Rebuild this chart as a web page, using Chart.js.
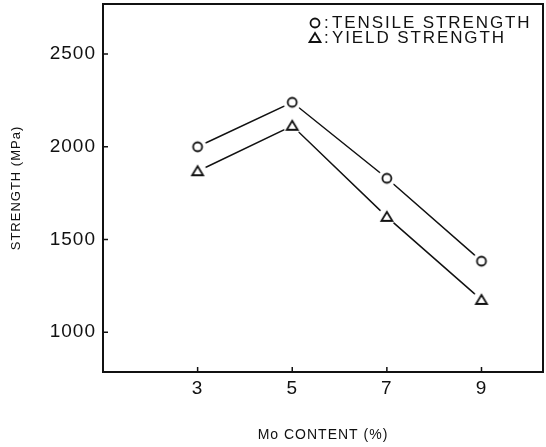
<!DOCTYPE html>
<html>
<head>
<meta charset="utf-8">
<script src="https://cdn.jsdelivr.net/npm/chart.js@4/dist/chart.umd.min.js"></script>
<style>
  html, body { margin: 0; padding: 0; background: #fff; }
  #wrap { width: 546px; height: 447px; }
</style>
</head>
<body>
<div id="wrap"><canvas id="c" width="546" height="447"></canvas></div>
<script>
// Mo content (%) and measured strengths (MPa)
const moContent = [3, 5, 7, 9];
const tensileStrength = [2000, 2240, 1830, 1383];
const yieldStrength = [1868, 2113, 1622, 1174];
const xTickValues = [3, 5, 7, 9];
const yTickValues = [1000, 1500, 2000, 2500];

const FONT = '"Liberation Sans", Arial, sans-serif';
const INK = '#111';

// Marker images: open symbol with a white halo so the joining lines stop short of it
function makeMarker(kind) {
  const size = 22, c = document.createElement('canvas');
  c.width = size; c.height = size;
  const g = c.getContext('2d');
  const m = size / 2;
  g.fillStyle = '#fff';
  g.beginPath(); g.arc(m, m, 9, 0, Math.PI * 2); g.fill();
  g.strokeStyle = INK; g.lineWidth = 1.8;
  g.beginPath();
  if (kind === 'circle') {
    g.arc(m, m, 4.5, 0, Math.PI * 2);
  } else {
    g.moveTo(m, m - 5); g.lineTo(m + 5.5, m + 4); g.lineTo(m - 5.5, m + 4); g.closePath();
  }
  g.stroke();
  return c;
}
const circleMark = makeMarker('circle');
const triMark = makeMarker('triangle');

// Frame around the plotting area, inward tick marks and the in-plot key
const framePlugin = {
  id: 'frame',
  beforeDraw(chart) { chart.ctx.letterSpacing = '1px'; },
  afterDraw(chart) {
    const { ctx, chartArea: a, scales } = chart;
    ctx.save();
    ctx.strokeStyle = INK;
    ctx.lineWidth = 2;
    ctx.strokeRect(a.left, a.top, a.right - a.left, a.bottom - a.top);
    ctx.lineWidth = 1.5;
    ctx.beginPath();
    xTickValues.forEach(v => {
      const px = scales.x.getPixelForValue(v);
      ctx.moveTo(px, a.bottom); ctx.lineTo(px, a.bottom - 5);
    });
    yTickValues.forEach(v => {
      const py = scales.y.getPixelForValue(v);
      ctx.moveTo(a.left, py); ctx.lineTo(a.left + 5, py);
    });
    ctx.stroke();

    // key
    ctx.font = '17px ' + FONT;
    ctx.letterSpacing = '1.9px';
    ctx.fillStyle = INK;
    ctx.textBaseline = 'middle';
    const kx = a.left + 212, rows = [
      { y: a.top + 19, img: circleMark, text: 'TENSILE STRENGTH' },
      { y: a.top + 34, img: triMark, text: 'YIELD STRENGTH' }
    ];
    rows.forEach(r => {
      ctx.drawImage(r.img, kx - r.img.width / 2, r.y - r.img.height / 2);
      ctx.fillText(':', kx + 9, r.y);
      ctx.fillText(r.text, kx + 17, r.y);
    });
    ctx.restore();
  }
};

new Chart(document.getElementById('c'), {
  type: 'line',
  data: {
    datasets: [
      {
        label: 'TENSILE STRENGTH',
        data: moContent.map((x, i) => ({ x, y: tensileStrength[i] })),
        borderColor: INK, borderWidth: 1.5,
        pointStyle: circleMark, pointRadius: 5,
        tension: 0
      },
      {
        label: 'YIELD STRENGTH',
        data: moContent.map((x, i) => ({ x, y: yieldStrength[i] })),
        borderColor: INK, borderWidth: 1.5,
        pointStyle: triMark, pointRadius: 5,
        tension: 0
      }
    ]
  },
  options: {
    responsive: false,
    animation: false,
    layout: { autoPadding: false, padding: { top: 4, right: 3, left: 0, bottom: 0 } },
    plugins: { legend: { display: false }, tooltip: { enabled: false } },
    scales: {
      x: {
        type: 'linear', min: 1, max: 10.3,
        afterBuildTicks: s => { s.ticks = xTickValues.map(v => ({ value: v })); },
        afterFit: s => { s.height = 75; s.paddingLeft = 0; s.paddingRight = 0; },
        grid: { display: false, drawTicks: false },
        border: { display: false },
        ticks: { color: INK, padding: 5, font: { family: FONT, size: 19 }, callback: v => String(v) },
        title: {
          display: true, text: 'Mo CONTENT (%)', color: INK,
          font: { family: FONT, size: 14 }, padding: { top: 0, bottom: 3 }
        }
      },
      y: {
        type: 'linear', min: 785, max: 2770,
        afterBuildTicks: s => { s.ticks = yTickValues.map(v => ({ value: v })); },
        afterFit: s => { s.width = 103; s.paddingTop = 0; s.paddingBottom = 0; },
        grid: { display: false, drawTicks: false },
        border: { display: false },
        ticks: { color: INK, padding: 7, font: { family: FONT, size: 19 }, callback: v => String(v) },
        title: {
          display: true, text: 'STRENGTH (MPa)', color: INK,
          font: { family: FONT, size: 13 }, padding: { top: 9, bottom: 0 }
        }
      }
    }
  },
  plugins: [framePlugin]
});
</script>
</body>
</html>
